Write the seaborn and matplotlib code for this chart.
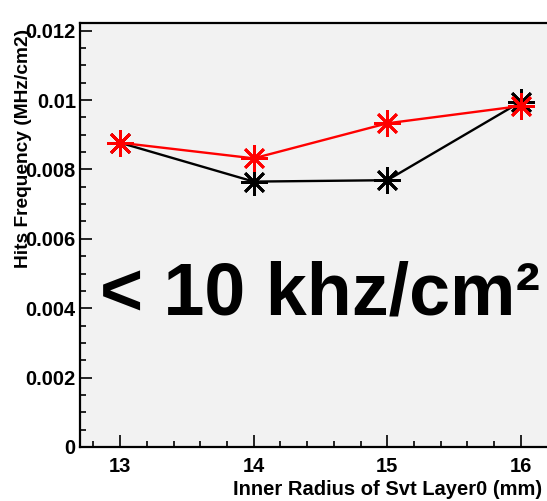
import matplotlib
matplotlib.use("Agg")
import matplotlib.pyplot as plt
import seaborn as sns
import pandas as pd
from matplotlib.ticker import MultipleLocator, FixedLocator

radius = [13, 14, 15, 16]
black_vals = [0.00877, 0.00765, 0.00769, 0.00995]
red_vals = [0.00877, 0.00832, 0.00933, 0.00983]
x_ticks = [13, 14, 15, 16]
y_ticks = [0, 0.002, 0.004, 0.006, 0.008, 0.01, 0.012]
y_tick_labels = ["0", "0.002", "0.004", "0.006", "0.008", "0.01", "0.012"]
x_label = "Inner Radius of Svt Layer0 (mm)"
y_label = "Hits Frequency (MHz/cm2)"
annotation = "< 10 khz/cm\u00b2"

sns.set_theme(style="white")
plt.rcParams["font.family"] = ["Liberation Sans", "DejaVu Sans"]
plt.rcParams["font.weight"] = "bold"
plt.rcParams["text.color"] = "black"
plt.rcParams["xtick.color"] = "black"
plt.rcParams["ytick.color"] = "black"
plt.rcParams["axes.labelcolor"] = "black"

W, H = 547, 501
fig = plt.figure(figsize=(W / 100, H / 100), dpi=100)
fig.patch.set_facecolor("white")
left, right, top, bottom = 80, 561, 22.7, 447
ax = fig.add_axes([left / W, 1 - bottom / H, (right - left) / W, (bottom - top) / H])
ax.set_facecolor("#f2f2f2")

df_black = pd.DataFrame({"radius": radius, "freq": black_vals})
df_red = pd.DataFrame({"radius": radius, "freq": red_vals})
mk = (8, 2, 0)
sns.lineplot(data=df_black, x="radius", y="freq", ax=ax, color="black", lw=1.7,
             marker=mk, markersize=19, markeredgecolor="black", markeredgewidth=2.0)
sns.lineplot(data=df_red, x="radius", y="freq", ax=ax, color="red", lw=1.7,
             marker=mk, markersize=19, markeredgecolor="red", markeredgewidth=2.0)

ax.set_xlim(12.7, 16.3)
ax.set_ylim(0, 0.01223)
ax.xaxis.set_major_locator(FixedLocator(x_ticks))
ax.xaxis.set_minor_locator(MultipleLocator(0.2))
ax.set_xticklabels([str(v) for v in x_ticks])
ax.yaxis.set_major_locator(FixedLocator(y_ticks))
ax.yaxis.set_minor_locator(MultipleLocator(0.0005))
ax.set_yticklabels(y_tick_labels)

ax.tick_params(which="both", direction="in", color="black", width=1.2,
               top=False, right=False, bottom=True, left=True,
               labelcolor="black")
ax.tick_params(which="major", length=8.5, labelsize=14.5)
ax.tick_params(axis="x", which="major", pad=7)
ax.tick_params(axis="y", which="major", pad=3)
ax.tick_params(which="minor", length=4)
for lab in ax.get_xticklabels() + ax.get_yticklabels():
    lab.set_fontweight("bold")

for s in ["left", "bottom", "top"]:
    ax.spines[s].set_color("black")
    ax.spines[s].set_linewidth(1.6)
ax.spines["right"].set_visible(False)

ax.set_xlabel(x_label, fontsize=14.5, fontweight="bold", color="black")
ax.xaxis.label.set(ha="left", va="top")
ax.xaxis.set_label_coords((233 - left) / (right - left), -(480 - bottom) / (bottom - top))
ax.set_ylabel(y_label, fontsize=13.8, fontweight="bold", color="black")
ax.yaxis.label.set(rotation_mode="anchor", ha="right", va="center")
ax.yaxis.set_label_coords(-(left - 24) / (right - left), (bottom - 29) / (bottom - top))

ax.text((100 - left) / (right - left), (bottom - 315) / (bottom - top), annotation,
        transform=ax.transAxes, fontsize=53, fontweight="bold", color="black",
        ha="left", va="baseline")

fig.savefig("out.png", dpi=100)
